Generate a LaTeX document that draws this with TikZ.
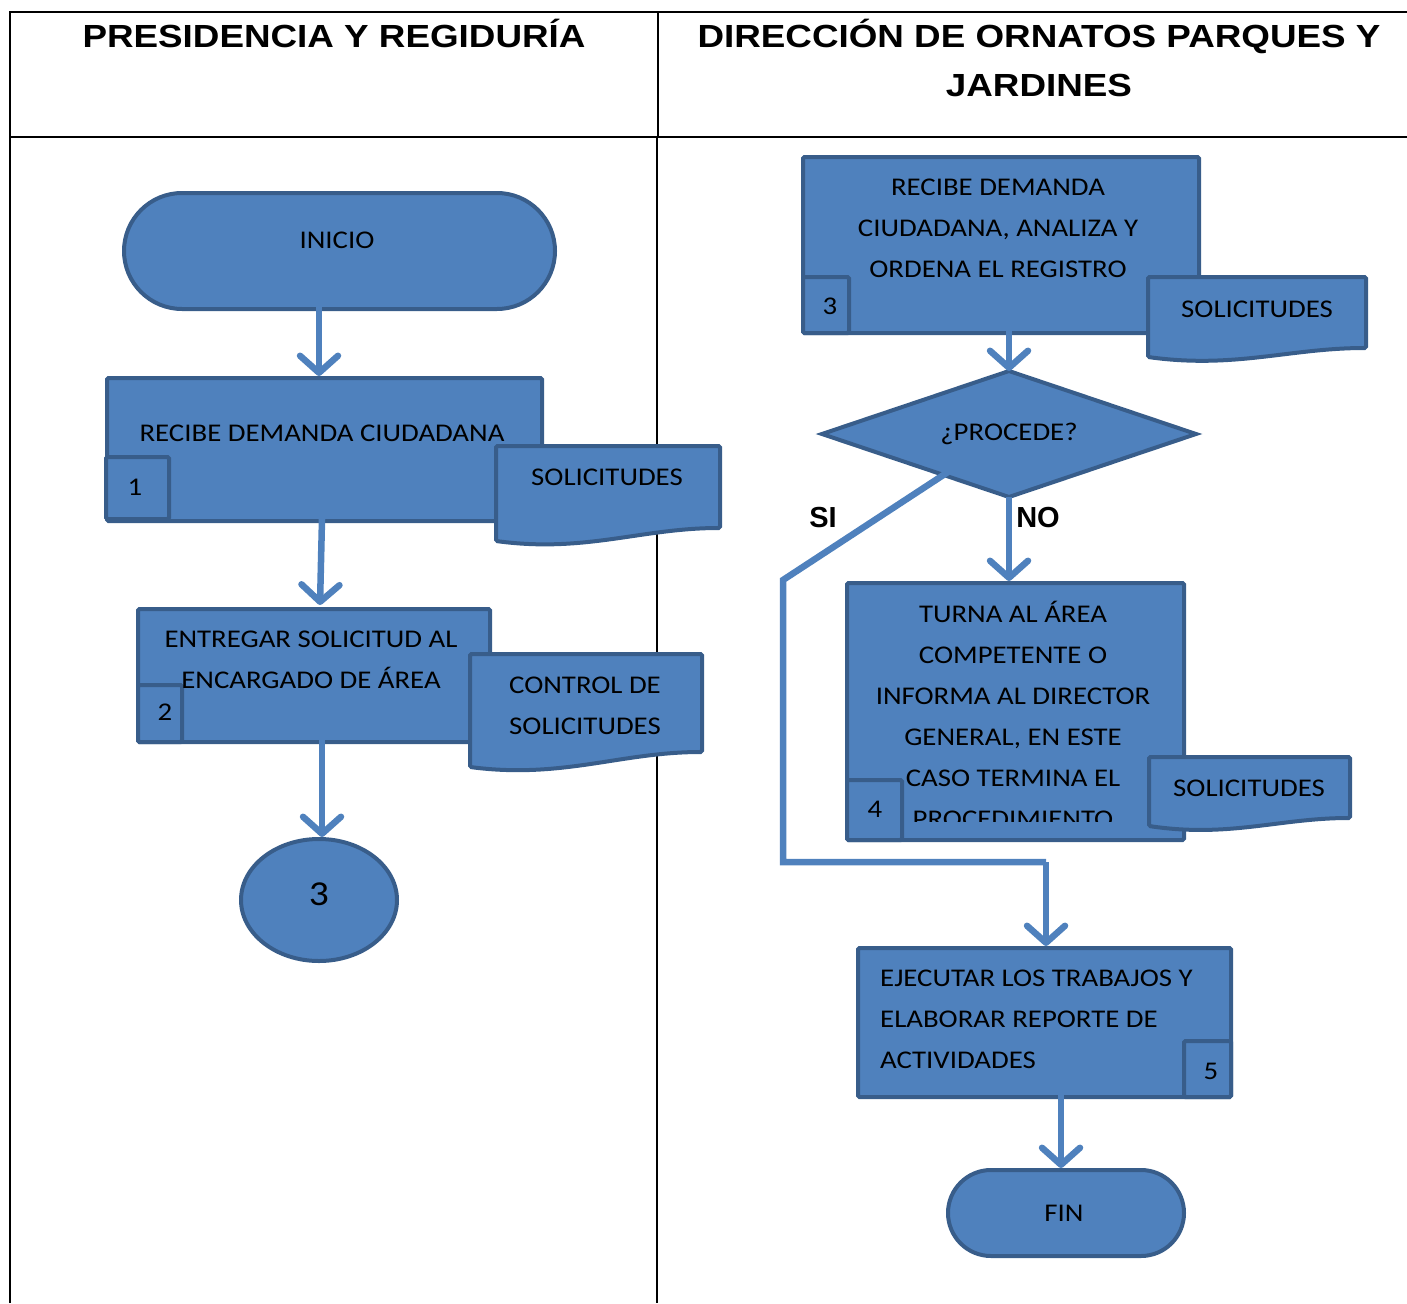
\documentclass[tikz,border=0pt]{standalone}
\usepackage{fontspec}
\usetikzlibrary{arrows.meta,shapes.geometric}
\newfontfamily\bodyfont{Carlito}[FakeStretch=1.13]
\newfontfamily\headfont{Liberation Sans}[FakeStretch=1.15]
\newfontfamily\labfont{Liberation Sans}
\definecolor{fillblue}{HTML}{4F81BD}
\definecolor{edgeblue}{HTML}{385D8A}
\definecolor{arrowblue}{HTML}{4F81BD}
\newcommand\mydoc[6]{% x1 x2 top yL yR name
  \path[docbox] (#1,#3) -- (#2,#3) -- (#2,#5)
    .. controls ({#2-0.35*(#2-#1)},#5) and ({#1+0.4*(#2-#1)},{#4+12}) .. (#1,#4) -- cycle;
  \coordinate (#6) at ({(#1+#2)/2},#3);}
\begin{document}
\begin{tikzpicture}[x=1pt,y=-1pt,
  shapebox/.style={fill=fillblue,draw=edgeblue,line width=4pt,rounded corners=1.5pt,anchor=north west,inner sep=0pt},
  docbox/.style={fill=fillblue,draw=edgeblue,line width=4pt,rounded corners=1.5pt},
  txt/.style={font=\bodyfont\fontsize{25.5}{41}\selectfont,align=center,inner sep=0pt,text=black},
  head/.style={font=\headfont\bfseries\fontsize{32}{49}\selectfont,align=center,inner sep=0pt},
  lab/.style={font=\labfont\bfseries\fontsize{29}{34}\selectfont,inner sep=0pt},
  flow/.style={draw=arrowblue,line width=6.5pt,-{Straight Barb[length=17pt,width=38pt,round]}},
  flowline/.style={draw=arrowblue,line width=6.5pt},
  gridline/.style={line width=2pt,draw=black}]
\useasboundingbox (0,0) rectangle (1407,1303);
% table
\draw[gridline] (10,1303) -- (10,12) -- (1407,12);
\draw[gridline] (10,137) -- (1407,137);
\draw[gridline] (658,12) -- (658,137);
\draw[gridline] (657,137) -- (657,1303);
\node[head] (h1) at (334,33) {PRESIDENCIA Y REGIDURÍA};
\node[head] (h2) at (1039,57.5) {DIRECCIÓN DE ORNATOS PARQUES Y\\JARDINES};
% left column
\node[shapebox,minimum width=431pt,minimum height=116pt,rounded corners=58pt] (inicio) at (122,191) {};
\node[txt] (tinicio) at (337,240) {INICIO};
\node[shapebox,minimum width=435pt,minimum height=143pt] (b1) at (105,376) {};
\node[shapebox,minimum width=63pt,minimum height=62pt] (n1) at (104,455) {};
\node[txt] (t1) at (322,433) {RECIBE DEMANDA CIUDADANA};
\node[txt] (tn1) at (135,487) {1};
\mydoc{496}{720}{446}{541}{528}{d1}
\node[txt] (td1) at (607,477) {SOLICITUDES};
\node[shapebox,minimum width=352pt,minimum height=133pt] (b2) at (136,607) {};
\node[shapebox,minimum width=44pt,minimum height=57pt] (n2) at (136,683) {};
\node[txt] (t2) at (311,659.5) {ENTREGAR SOLICITUD AL\\ENCARGADO DE ÁREA};
\node[txt] (tn2) at (165,712) {2};
\mydoc{470}{702}{654}{767}{752}{d2}
\node[txt] (td2) at (585,706) {CONTROL DE\\SOLICITUDES};
\node[ellipse,fill=fillblue,draw=edgeblue,line width=4pt,minimum width=156pt,minimum height=122pt,inner sep=0pt] (c3) at (319,900) {};
\node[txt,font=\bodyfont\fontsize{35}{40}\selectfont] (tc3) at (319,894) {3};
\coordinate (a1s) at (319,307);
\coordinate (a2s) at (322,519);
\coordinate (a3s) at (322,740);
\draw[flow] (a1s) -- (a1s |- b1.north);
\draw[flow] (a2s) -- (320,605);
\draw[flow] (a3s) -- (a3s |- c3.north);
% right column
\node[shapebox,minimum width=396pt,minimum height=176pt] (b3) at (801,155) {};
\node[shapebox,minimum width=46pt,minimum height=56pt] (n3) at (801,275) {};
\node[txt] (t3) at (998,228) {RECIBE DEMANDA\\CIUDADANA, ANALIZA Y\\ORDENA EL REGISTRO};
\node[txt] (tn3) at (830,306) {3};
\mydoc{1148}{1366}{277}{357}{348}{d3}
\node[txt] (td3) at (1257,309) {SOLICITUDES};
\coordinate (dtop) at (1009,371);
\coordinate (dbot) at (1009,497);
\coordinate (dleft) at (822,434);
\coordinate (dright) at (1196,434);
\path[fill=fillblue,draw=edgeblue,line width=4pt,line join=miter] (dtop) -- (dright) -- (dbot) -- (dleft) -- cycle;
\node[txt] (tproc) at (1009,434) {¿PROCEDE?};
\coordinate (a4s) at (1009,320);
\draw[flow] (a4s) -- (dtop);
\node[shapebox,minimum width=337pt,minimum height=257pt] (b4) at (845,581) {};
\node[shapebox,minimum width=55pt,minimum height=60pt] (n4) at (845,778) {};
\begin{scope}
\clip (845,581) rectangle (1182,821);
\node[txt] (t4) at (1013,714.5) {TURNA AL ÁREA\\COMPETENTE O\\INFORMA AL DIRECTOR\\GENERAL, EN ESTE\\CASO TERMINA EL\\PROCEDIMIENTO};
\end{scope}
\node[txt] (tn4) at (875,809) {4};
\mydoc{1149}{1350}{757}{826}{818}{d4}
\node[txt] (td4) at (1249,788) {SOLICITUDES};
\node[shapebox,minimum width=373pt,minimum height=149pt] (b5) at (856,946) {};
\node[shapebox,minimum width=47pt,minimum height=56pt] (n5) at (1182,1039) {};
\node[txt,align=left,anchor=west] (t5) at (880,1019.5) {EJECUTAR LOS TRABAJOS Y\\ELABORAR REPORTE DE\\ACTIVIDADES};
\node[txt] (tn5) at (1211,1071) {5};
\node[shapebox,minimum width=236pt,minimum height=86pt,rounded corners=43pt] (fin) at (946,1168) {};
\node[txt] (tfin) at (1064,1213) {FIN};
% decision branches
\draw[flow] (dbot) -- (dbot |- b4.north);
\coordinate (sis) at (948,472);
\coordinate (sic) at (783,580);
\coordinate (sid) at (783,862);
\coordinate (sie) at (1046,862);
\draw[flowline,line join=miter] (sis) -- (sic) -- (sid) -- (sie);
\draw[flow] (sie) -- (sie |- b5.north);
\node[lab] (lsi) at (823,518) {SI};
\node[lab] (lno) at (1038,518) {NO};
\coordinate (a5s) at (1061,1095);
\draw[flow] (a5s) -- (a5s |- fin.north);
\end{tikzpicture}
\end{document}
